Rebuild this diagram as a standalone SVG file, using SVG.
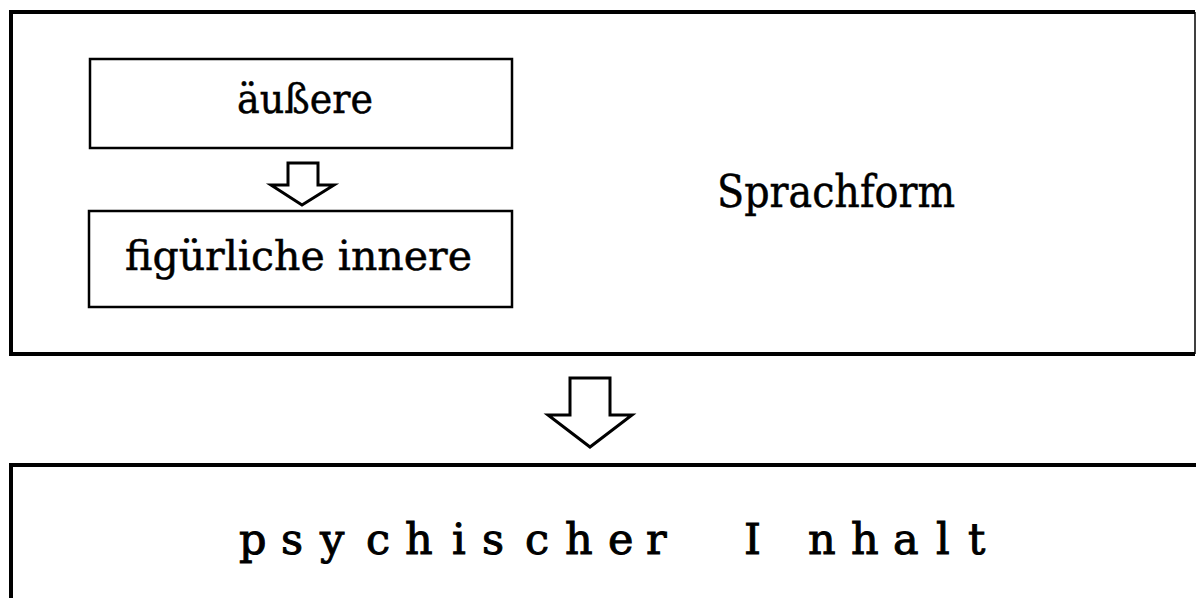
<svg xmlns="http://www.w3.org/2000/svg" width="1196" height="598" viewBox="0 0 1196 598">
  <style>
    .frame { fill: none; stroke: #000; stroke-width: 4; }
    .box { fill: #fff; stroke: #000; stroke-width: 2.5; }
    .arrow { fill: #fff; stroke: #000; stroke-width: 3; stroke-linejoin: miter; }
    .lbl { font-family: "DejaVu Serif", "Liberation Serif", serif; font-size: 41px; fill: #000; stroke: #000; stroke-width: 0.5; }
    .big { font-family: "DejaVu Serif", "Liberation Serif", serif; font-size: 43px; fill: #000; stroke: #000; stroke-width: 1; }
  </style>
  <rect width="1196" height="598" fill="#fff"/>

  <!-- Sprachform container -->
  <g id="sprachform">
    <path class="frame" d="M1195,12 H11 V354 H1195"/>
    <line x1="1195" y1="12" x2="1195" y2="354" stroke="#000" stroke-width="1.5"/>
    <text class="lbl" x="717" y="207" style="font-size:44px" textLength="238" lengthAdjust="spacingAndGlyphs">Sprachform</text>
  </g>

  <!-- outer form -->
  <g id="aeussere">
    <rect class="box" x="90" y="59" width="422" height="89"/>
    <text class="lbl" x="237" y="113" textLength="136" lengthAdjust="spacingAndGlyphs">äußere</text>
  </g>

  <!-- figurative inner form -->
  <g id="innere">
    <rect class="box" x="89" y="211" width="423" height="96"/>
    <text class="lbl" x="125" y="270" textLength="347" lengthAdjust="spacingAndGlyphs">figürliche innere</text>
  </g>

  <!-- psychic content -->
  <g id="inhalt">
    <path class="frame" d="M11,600 V465 H1196"/>
    <text class="big" y="554" x="239 281 320 366 405 452 482 525 565 608 646 700 744 808 851 893 936 968">psychischer Inhalt</text>
  </g>

  <!-- block arrows -->
  <g id="connectors">
    <path class="arrow" d="M288,163 H318 V185 H334 L302,205 L271,185 H288 Z"/>
    <path class="arrow" d="M570,378 H610 V415 H632 L590,447 L548,415 H570 Z"/>
  </g>
</svg>
